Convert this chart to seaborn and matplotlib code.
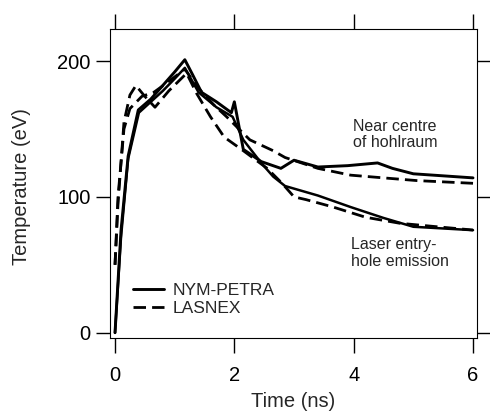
import seaborn as sns
import matplotlib
matplotlib.use("Agg")
import matplotlib.pyplot as plt

# NYM-PETRA, near centre of hohlraum
t_nym_centre = [0, 0.1, 0.22, 0.39, 0.6, 0.8, 1.0, 1.17, 1.3, 1.45, 1.7, 1.95, 2.0, 2.15, 2.45, 2.78, 3.0, 3.4, 3.9, 4.4, 4.65, 5.0, 6.0]
T_nym_centre = [0, 75, 130, 164, 172, 182, 192, 201, 190, 177, 170, 162, 170, 135, 126, 121, 127, 122, 123, 125, 121, 117, 114]

# NYM-PETRA, laser entry-hole emission
t_nym_hole = [0, 0.1, 0.22, 0.4, 0.6, 0.8, 1.0, 1.17, 1.4, 1.7, 1.97, 2.15, 2.45, 2.65, 2.85, 3.4, 3.95, 4.5, 5.0, 6.0]
T_nym_hole = [0, 70, 128, 162, 170, 178, 187, 195, 177, 166, 159, 142, 125, 115, 108, 101, 92.5, 84.5, 78, 75.5]

# LASNEX, near centre of hohlraum
t_las_centre = [0, 0.05, 0.15, 0.25, 0.45, 0.65, 0.87, 1.05, 1.17, 1.4, 1.65, 1.87, 2.26, 2.65, 2.85, 3.4, 3.95, 4.5, 5.06, 6.0]
T_las_centre = [50, 100, 150, 165, 174, 177, 184, 190, 194, 180, 168, 159, 142, 134, 129, 121, 116, 114, 112, 110]

# LASNEX, laser entry-hole emission
t_las_hole = [0, 0.05, 0.15, 0.25, 0.35, 0.5, 0.67, 0.9, 1.2, 1.37, 1.6, 1.83, 2.15, 2.55, 2.8, 3.0, 3.2, 3.65, 4.2, 4.77, 5.4, 6.0]
T_las_hole = [50, 95, 155, 175, 182, 174, 166, 178, 191, 176, 159, 144, 134, 121, 110, 100, 98, 92.6, 85, 80.6, 78, 75.6]

x_ticks = [0, 2, 4, 6]
y_ticks = [0, 100, 200]

sns.set_style("ticks")
plt.rcParams['font.family'] = ['Liberation Sans', 'DejaVu Sans']

fig = plt.figure(figsize=(4.9, 4.11), dpi=100)
ax = fig.add_axes([0.2245, 0.1776, 0.749, 0.7518])

dash = (4.5, 2.2)
sns.lineplot(x=t_nym_centre, y=T_nym_centre, ax=ax, color='black', lw=2.1, label='NYM-PETRA', sort=False)
sns.lineplot(x=t_nym_hole, y=T_nym_hole, ax=ax, color='black', lw=1.8, sort=False)
sns.lineplot(x=t_las_centre, y=T_las_centre, ax=ax, color='black', lw=2.0, sort=False,
             linestyle=(0, dash), label='LASNEX')
sns.lineplot(x=t_las_hole, y=T_las_hole, ax=ax, color='black', lw=2.0, sort=False,
             linestyle=(0, dash))

ax.set_xlim(-0.084, 6.067)
ax.set_ylim(-3.9, 223.6)
ax.set_xticks(x_ticks)
ax.set_yticks(y_ticks)
ax.tick_params(direction='out', top=True, right=True, width=1.0,
               labelsize=14.5, colors='black')
ax.tick_params(axis='x', length=11, pad=9)
ax.tick_params(axis='y', length=10, pad=4)
for s in ax.spines.values():
    s.set_linewidth(0.8)
    s.set_color('black')

ax.set_xlabel('Time (ns)', fontsize=14.5)
ax.set_ylabel('Temperature (eV)', fontsize=14.5)
ax.xaxis.label.set_va('center')
ax.yaxis.label.set_va('center')
ax.xaxis.set_label_coords(0.5, -0.205)
ax.yaxis.set_label_coords(-0.24, 0.49)

ax.text(3.99, 146, 'Near centre\nof hohlraum', fontsize=11.5, ha='left', va='center', linespacing=1.15)
ax.text(3.96, 58.7, 'Laser entry-\nhole emission', fontsize=11.5, ha='left', va='center', linespacing=1.15)

ax.legend(loc='center left', bbox_to_anchor=(0.063, 0.125), frameon=False, fontsize=12.5,
          handlelength=1.75, handletextpad=0.55, labelspacing=0.12,
          borderpad=0, borderaxespad=0)

plt.savefig('out.png', dpi=100)
plt.close()
